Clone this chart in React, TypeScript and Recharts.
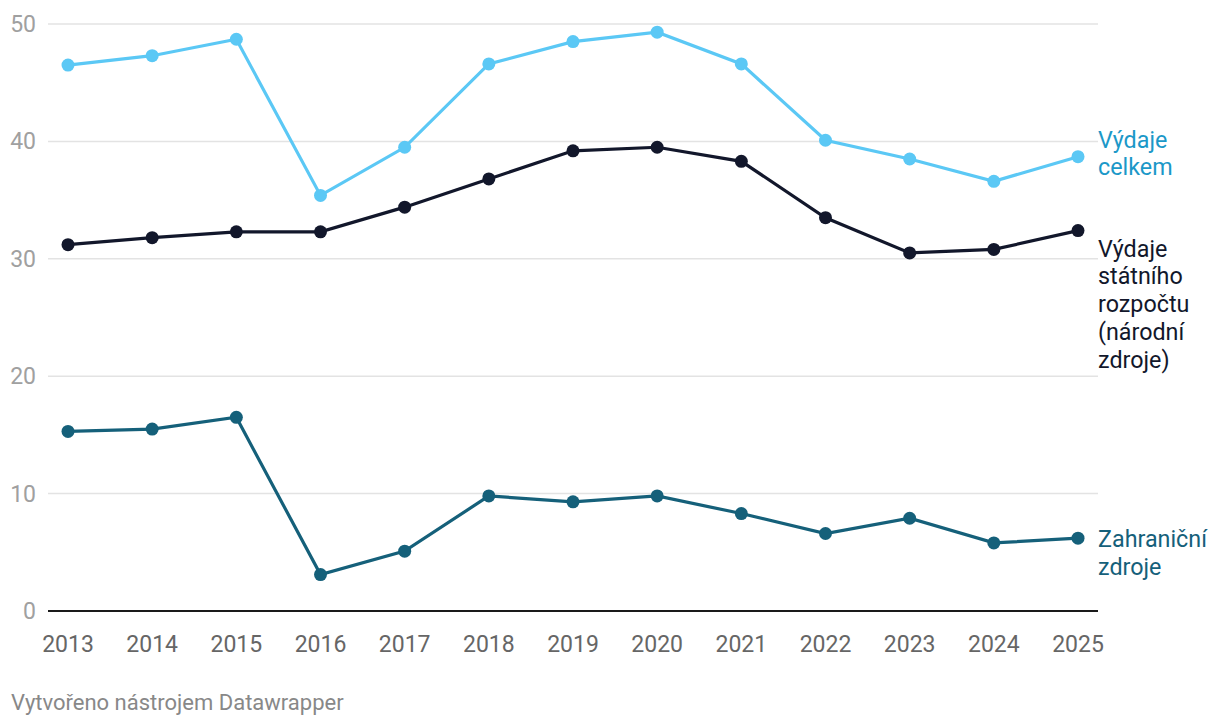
import React from "react";
import { LineChart, Line, XAxis, YAxis, CartesianGrid, ReferenceLine } from "recharts";

// Datawrapper-style line chart: výdaje na výzkum a vývoj (mld. Kč)

const years = ["2013", "2014", "2015", "2016", "2017", "2018", "2019", "2020", "2021", "2022", "2023", "2024", "2025"];
const vydajeCelkem = [46.5, 47.3, 48.7, 35.4, 39.5, 46.6, 48.5, 49.3, 46.6, 40.1, 38.5, 36.6, 38.7];
const statniRozpocet = [31.2, 31.8, 32.3, 32.3, 34.4, 36.8, 39.2, 39.5, 38.3, 33.5, 30.5, 30.8, 32.4];
const zahranicni = [15.3, 15.5, 16.5, 3.1, 5.1, 9.8, 9.3, 9.8, 8.3, 6.6, 7.9, 5.8, 6.2];
const yTicks = [0, 10, 20, 30, 40, 50];

const data = years.map((year, i) => ({
  year,
  celkem: vydajeCelkem[i],
  statni: statniRozpocet[i],
  zahranicni: zahranicni[i],
}));

const FONT = "Roboto, 'Noto Sans', sans-serif";
const LAST = years.length - 1;

const series = [
  { key: "celkem", color: "#5bc8f5", labelColor: "#1b98c8", lines: ["Výdaje", "celkem"], dy: -17 },
  { key: "statni", color: "#12172b", labelColor: "#12172b", lines: ["Výdaje", "státního", "rozpočtu", "(národní", "zdroje)"], dy: 18 },
  { key: "zahranicni", color: "#15607a", labelColor: "#15607a", lines: ["Zahraniční", "zdroje"], dy: 1 },
];

function XTick({ x, y, payload }: any) {
  return (
    <text x={x} y={y} dy={19} textAnchor="middle" fill="#666" fontSize={23} fontFamily={FONT}>
      {payload.value}
    </text>
  );
}

function YTick({ x, y, payload }: any) {
  return (
    <text x={36} y={y} dy={8} textAnchor="end" fill="#a0a0a0" fontSize={23} fontFamily={FONT}>
      {payload.value}
    </text>
  );
}

function endLabel(lines: string[], color: string, dy: number) {
  return (props: any) => {
    if (props.index !== LAST) return null;
    const x = props.x + 20;
    const y = props.y + dy;
    return (
      <text x={x} y={y} fill={color} fontSize={23.3} fontFamily={FONT}>
        {lines.map((l, i) => (
          <tspan key={i} x={x} y={y + 8 + i * 27.8}>
            {l}
          </tspan>
        ))}
      </text>
    );
  };
}

export default function App() {
  return (
    <div style={{ position: "absolute", left: 0, top: 0, width: 1220, height: 728, background: "#fff" }}>
      <LineChart width={1220} height={680} data={data} margin={{ top: 24, right: 122, bottom: 0, left: 0 }}>
        <CartesianGrid vertical={false} stroke="#e3e3e3" strokeWidth={1.5} />
        <XAxis
          dataKey="year"
          axisLine={false}
          tickLine={false}
          tick={<XTick />}
          tickMargin={16}
          height={69}
          padding={{ left: 20, right: 20 }}
          interval={0}
        />
        <YAxis
          domain={[0, 50]}
          ticks={yTicks}
          axisLine={false}
          tickLine={false}
          tick={<YTick />}
          width={48}
        />
        <ReferenceLine y={0} stroke="#1a1a1a" strokeWidth={2} />
        {series.map((s) => (
          <Line
            key={s.key}
            dataKey={s.key}
            type="linear"
            stroke={s.color}
            strokeWidth={3.2}
            dot={{ r: 6.5, fill: s.color, stroke: s.color, strokeWidth: 0 }}
            activeDot={false}
            label={endLabel(s.lines, s.labelColor, s.dy)}
            isAnimationActive={false}
          />
        ))}
      </LineChart>
      <div
        style={{
          position: "absolute",
          left: 11,
          top: 690,
          fontFamily: FONT,
          fontSize: 22,
          color: "#888",
        }}
      >
        Vytvořeno nástrojem Datawrapper
      </div>
    </div>
  );
}
